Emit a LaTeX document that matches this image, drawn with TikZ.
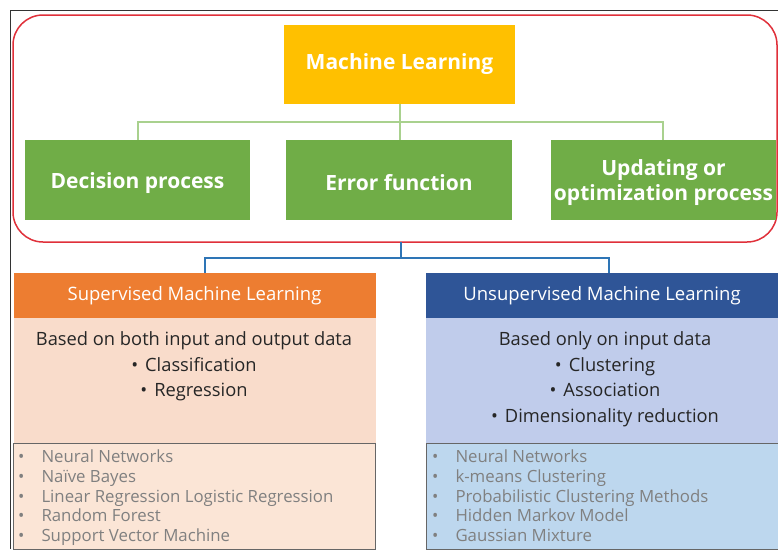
\documentclass[tikz,border=0pt]{standalone}
\usepackage{fontspec}
\setmainfont{Open Sans}
\begin{document}
\begin{tikzpicture}[x=1pt,y=-1pt,
  box/.style={draw=none,inner sep=0pt,outer sep=0pt},
  mltxt/.style={font=\fontsize{21}{24}\selectfont\bfseries,text=white},
  grntxt/.style={font=\fontsize{21}{25}\selectfont\bfseries,text=white,align=center,yshift=-3pt},
  hdrtxt/.style={font=\fontsize{18.5}{22}\selectfont,text=white},
  bodytxt/.style={font=\fontsize{18.3}{25.7}\selectfont,text=black!85,align=center},
  listtxt/.style={font=\fontsize{16.8}{19.8}\selectfont,text=black!50,align=left,anchor=north west,inner sep=0pt}
]
\definecolor{mlyellow}{HTML}{FFC000}
\definecolor{mlgreen}{HTML}{70AD47}
\definecolor{mlorange}{HTML}{ED7D31}
\definecolor{mlnavy}{HTML}{2F5597}
\definecolor{mlpink}{HTML}{F9DCCB}
\definecolor{mlpinklight}{HTML}{FBE5D6}
\definecolor{mlblue}{HTML}{C0CCEB}
\definecolor{mlbluelight}{HTML}{BDD7EE}
\definecolor{mlred}{HTML}{E0303A}
\definecolor{mlline}{HTML}{A9D18E}
\definecolor{mlconn}{HTML}{2E75B6}
\useasboundingbox (0,0) rectangle (778,549);
\fill[white] (0,0) rectangle (778,549);
% outer frame
\draw[black!80,line width=0.8pt] (10,549) -- (10,10) -- (778,10);
% red rounded frame
\draw[mlred,line width=1.5pt,rounded corners=30pt] (13,15) rectangle (777,242);
% top box
\node[box,fill=mlyellow,minimum width=231pt,minimum height=79pt,mltxt] (ml) at (399.5,64.5) {Machine Learning};
% green boxes
\node[box,fill=mlgreen,minimum width=225pt,minimum height=80pt,label={[grntxt]center:Decision process}] (dp) at (137.5,180) {};
\node[box,fill=mlgreen,minimum width=226pt,minimum height=80pt,label={[grntxt]center:Error function}] (ef) at (399,180) {};
\node[box,fill=mlgreen,minimum width=225pt,minimum height=80pt,label={[grntxt]center:Updating or\\optimization process}] (up) at (663.5,180) {};
\coordinate (gj) at (400,122);
\draw[draw=mlline,line width=1.3pt] (ml.south -| gj) -- (gj);
\draw[draw=mlline,line width=1.3pt] (dp.north -| 138,0) -- (138,122) -- (663,122) -- (up.north -| 663,0);
\draw[draw=mlline,line width=1.3pt] (gj) -- (ef.north -| gj);
% supervised
\node[box,fill=mlorange,minimum width=362pt,minimum height=45pt,hdrtxt] (sh) at (194.5,295.5) {Supervised Machine Learning};
\node[box,fill=mlpink,minimum width=362pt,minimum height=125pt,anchor=north] (sb) at (sh.south) {};
\node[bodytxt,anchor=north] (st) at (194,328) {Based on both input and output data\\ \textbullet\hspace{7pt}Classification\\ \textbullet\hspace{7pt}Regression};
\node[box,fill=mlpinklight,draw=black!60,line width=0.8pt,minimum width=362pt,minimum height=106pt,anchor=north] (sl) at (194.5,443) {};
\node[listtxt] (sll) at (18,449.5) {\textbullet\hspace{17pt}Neural Networks\\\textbullet\hspace{17pt}Naïve Bayes\\\textbullet\hspace{17pt}Linear Regression Logistic Regression\\\textbullet\hspace{17pt}Random Forest\\\textbullet\hspace{17pt}Support Vector Machine};
% unsupervised
\node[box,fill=mlnavy,minimum width=352pt,minimum height=45pt,hdrtxt] (uh) at (602,295.5) {Unsupervised Machine Learning};
\node[box,fill=mlblue,minimum width=352pt,minimum height=125pt,anchor=north] (ub) at (uh.south) {};
\node[bodytxt,anchor=north] (ut) at (605,328) {Based only on input data\\ \textbullet\hspace{7pt}Clustering\\ \textbullet\hspace{7pt}Association\\ \textbullet\hspace{7pt}Dimensionality reduction};
\node[box,fill=mlbluelight,draw=black!60,line width=0.8pt,minimum width=354pt,minimum height=106pt,anchor=north] (ul) at (603,443) {};
\node[listtxt] (ull) at (432,449.5) {\textbullet\hspace{17pt}Neural Networks\\\textbullet\hspace{17pt}k-means Clustering\\\textbullet\hspace{17pt}Probabilistic Clustering Methods\\\textbullet\hspace{17pt}Hidden Markov Model\\\textbullet\hspace{17pt}Gaussian Mixture};
% blue connector
\coordinate (bj) at (401,258);
\draw[mlconn,line width=2pt] (401,242) -- (bj);
\draw[mlconn,line width=2pt] (sh.north -| 205,0) -- (205,258) -- (609,258) -- (uh.north -| 609,0);
\end{tikzpicture}
\end{document}
